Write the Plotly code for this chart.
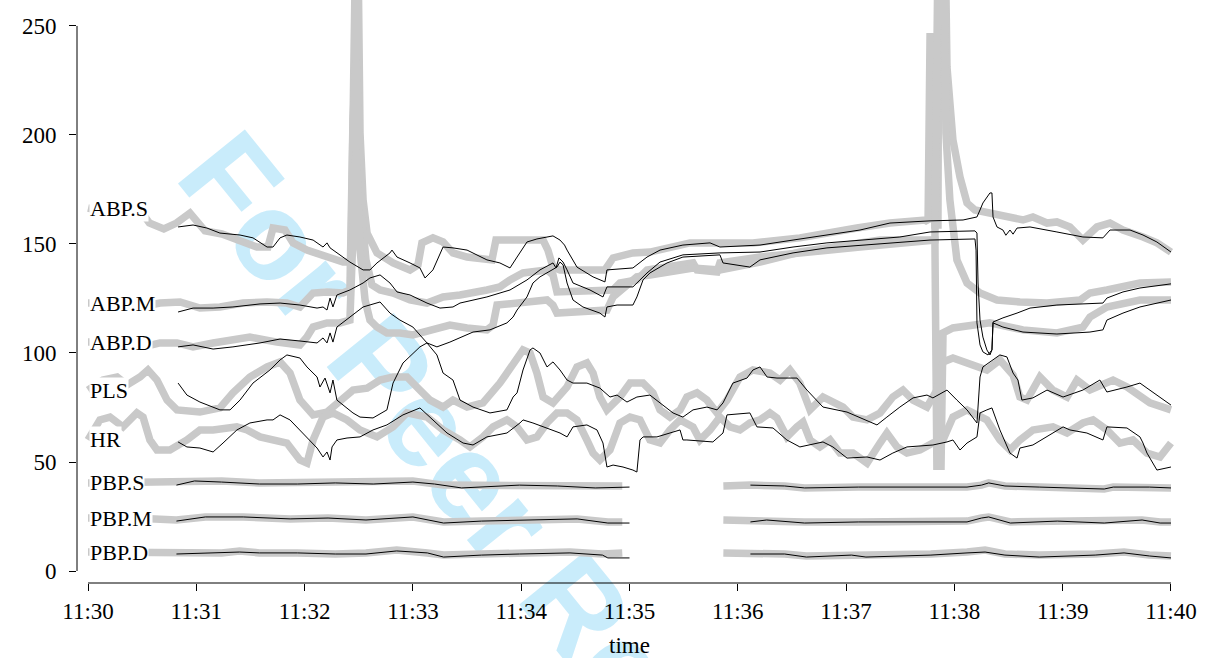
import pandas as pd
import plotly.graph_objects as go

# ---------------- data (time in seconds after 11:30:00, value) ----------------
TICK_SECONDS = [0, 60, 120, 180, 240, 300, 360, 420, 480, 540, 600]
TICK_LABELS = ["11:30", "11:31", "11:32", "11:33", "11:34", "11:35",
               "11:36", "11:37", "11:38", "11:39", "11:40"]
Y_TICKS = [0, 50, 100, 150, 200, 250]
SERIES_NAMES = ["ABP.S", "ABP.M", "ABP.D", "PLS", "HR", "PBP.S", "PBP.M", "PBP.D"]

# thick grey series (monitor values)
ABP_S_grey = [(0,166.5),(12,164.2),(30,164.2),(34,159.6),(42,156.9),(49,159.6),(56.5,164.2),(60.4,160.6),
    (64.8,156),(74.2,154.6),(84.2,151.4),(93.6,148.6),(99.7,148.6),(102.5,157.3),(109.1,156.4),(113.6,150.5),
    (121.3,147.2),(132.4,144),(141.3,141.7),(145.7,141.7),(146.3,330),(149,330),(150.7,200.9),(152.4,170.2),
    (154.6,155),(160.1,145.9),(169,141.3),(178.4,138.1),(182.8,140.4),(185,150.5),(191.1,152.8),(196.7,150.9),
    (202.2,145.9),(210,144),(223.8,142.7),(226,151.8),(233.8,151.8),(252.1,151.8),(254.8,147.2),(257.6,139.4),
    (261.5,138.1),(286.4,138.1),(290.9,143.6),(301.9,145.9),(311.3,146.3),(333.5,150.5),(368.4,150.5),
    (394.4,152.8),(426,157.3),(444.3,159.6),(463.7,161),(465.4,160.1),(466.5,245),(468.1,245),(469.2,158.7),
    (470.9,158.7),(471.5,330),(474.2,330),(475.9,231.2),(477.5,216.1),(479.2,197.7),(483.1,180.7),(487,168.8),
    (491.4,165.6),(499.7,164.2),(506.9,162.4),(518,161),(523.5,162.4),(531.3,159.6),(536.8,160.1),(544,157.8),
    (551.2,151.8),(559,157.8),(566.2,159.6),(573.4,156.4),(584.5,153.2),(592.2,150.5),(600,146.3)]
ABP_M_grey = [(0,122.9),(13.9,122.9),(28.8,121.1),(39.9,122.9),(51,123.4),(62,120.6),(73.1,121.1),(85.9,122.9),
    (99.2,123.4),(110.2,122.9),(117.4,121.1),(121.3,124.3),(124.7,127.5),(132.4,128),(141.3,127.5),(145.1,128.9),
    (146.8,206.9),(148.5,234.4),(150.1,193.1),(151.8,162.4),(154,142.7),(157.3,131.2),(161.8,128.9),(169,127.5),
    (178.4,124.3),(187.8,122.9),(196.7,125.7),(206.1,126.6),(221,128.9),(228.2,130.3),(233.8,133.5),(241,136.7),
    (254.3,138.1),(257.6,135.8),(259.8,128),(290.9,128.9),(294.7,132.1),(304.1,133.5),(309.7,138.1),(335.2,141.3),
    (337.4,138.1),(348.5,137.2),(350.1,141.3),(372.3,144),(427.7,148.6),(449.8,150.5),(469.2,151.8),(471.5,330),
    (473.7,330),(475.3,200.9),(477.5,170.2),(481.4,142.7),(487,132.1),(494.2,127.5),(503.6,124.3),(516.3,123.4),
    (531.3,122.9),(549.6,124.3),(555.1,127.5),(564.5,128.9),(573.4,130.3),(582.8,132.1),(600,132.6)]
ABP_D_grey = [(0,105),(12.2,105),(30.5,102.8),(39.9,104.6),(49.3,104.6),(58.2,102.8),(69.3,104.6),(80.3,106),
    (89.7,107.3),(104.7,105),(117.4,103.7),(121.3,107.3),(124.7,111.9),(132.4,113.8),(139.6,113.8),(145.1,115.1),
    (146.8,170.2),(148.5,193.1),(150.7,147.2),(153.5,124.3),(156.2,115.1),(160.1,111.9),(165.6,109.2),(172.8,109.2),
    (180,108.3),(191.1,110.6),(200.5,112.8),(210,111.5),(221,110.6),(224.4,112.8),(226.6,122),(254.3,124.3),
    (257.6,122),(259.8,118.3),(287.5,119.7),(290.9,125.7),(304.1,134.9),(311.3,135.8),(335.2,139),(350.1,138.1),
    (372.3,141.7),(394.4,146.3),(438.8,151.8),(469.2,151.8),(470.3,48),(472.6,48),(473.7,109.2),(479.2,111.5),
    (490.3,112.8),(499.7,113.8),(518,110.6),(536.8,109.2),(551.2,111.9),(555.1,116.5),(564.5,121.1),(582.8,124.3),
    (600,124.3)]
PLS_grey = [(0,83),(8.3,87.6),(16.1,89),(21.6,85.3),(28.8,89),(33.2,92.2),(38.2,87.6),(43.8,78.4),(49.3,73.9),
    (62,72.9),(73.1,74.8),(80.3,81.7),(89.7,89),(99.2,93.6),(106.4,95.9),(111.9,90.8),(117.4,78.4),(124.7,71.6),
    (132.4,72.9),(139.6,78.4),(146.8,83),(154.6,83.9),(161.8,87.6),(169,89),(176.7,89),(183.9,83),(189.5,78.4),
    (196.7,75.2),(202.2,78.4),(210,75.2),(218.8,77.1),(228.2,86.2),(235.5,95.4),(241,101.4),(244.9,100),
    (248.7,90.8),(252.1,79.8),(257.6,77.1),(265.4,84.4),(270.9,93.6),(276.4,95.4),(279.8,90.8),(283.6,79.8),
    (287.5,73.9),(294.7,79.8),(300.3,86.2),(307.5,86.2),(313,81.7),(316.9,73.9),(322.4,70.6),(328,73.9),
    (331.8,79.8),(337.4,81.7),(342.9,78.4),(348.5,72.5),(354,78.4),(361.2,89),(368.4,92.2),(377.8,90.8),
    (383.4,87.6),(388.9,92.2),(394.4,86.2),(400,73.9),(407.2,79.8),(418.3,75.2),(423.8,70.6),(431.6,69.3),
    (438.8,72.5),(445.9,79.8),(451.5,83),(457.1,78.4),(464.8,75.2),(470.3,83),(473.7,95.9),(479.2,97.7),
    (487,95.4),(498,92.2),(505.2,96.8),(512.5,89.9),(516.3,79.8),(520.2,78.4),(527.4,89),(534.6,83),
    (542.4,79.8),(547.9,87.6),(555.1,83),(567.9,87.6),(575.6,84.4),(588.3,77.1),(600,73.9)]
HR_grey = [(0,60.1),(6.6,69.3),(12.2,70.6),(19.4,66.1),(27.1,72.5),(30.5,70.6),(34.3,60.1),(38.2,55.5),
    (45.4,55.5),(54.8,60.1),(62,64.7),(69.3,64.7),(82.5,66.1),(88.1,64.7),(95.3,61.5),(102.5,60.1),(110.2,58.7),
    (117.4,50.9),(121.3,49.5),(124.7,60.1),(130.2,70.6),(135.7,72.5),(143.5,69.3),(150.7,64.7),(160.1,61.5),
    (169,66.1),(176.7,72.5),(187.8,70.6),(196.7,64.7),(206.1,60.1),(211.6,56.9),(218.8,61.5),(224.4,66.1),
    (232.1,69.3),(237.7,66.1),(243.2,60.1),(248.7,61.5),(254.3,67.9),(259.8,72.5),(265.4,72.5),(270.9,69.3),
    (276.4,60.1),(279.8,54.1),(283.6,50.9),(289.2,55.5),(294.7,67.9),(300.3,70.6),(305.8,69.3),(311.3,60.1),
    (316.9,58.7),(322.4,64.7),(328,69.3),(335.2,66.1),(339,60.1),(344.6,64.7),(350.1,70.6),(355.7,66.1),
    (361.2,64.7),(366.7,67.9),(372.3,69.3),(377.8,72.5),(381.7,70.2),(387.2,61.5),(392.8,66.1),(396.1,68.3),
    (400,60.1),(405.5,56.9),(411.1,60.1),(416.6,54.1),(423.8,54.1),(431.6,49.5),(438.8,58.7),(442.6,63.3),
    (448.2,56.9),(453.7,54.1),(460.9,55.5),(468.1,58.7),(473.7,60.1),(479.2,70.6),(487,73.9),(498,69.3),
    (505.2,60.1),(510.8,55.5),(516.3,60.1),(523.5,64.7),(534.6,66.1),(542.4,63.3),(551.2,67.9),(556.8,69.3),
    (564.5,64.7),(571.7,58.7),(578.9,60.1),(586.7,54.1),(593.9,52.3),(600,58.7)]
PBP_S_grey = [(0,40.4),(20,40.8),(49,41.3),(74,41.3),(95,40.4),(137,40.8),(158,40.4),(180,41.3),(197,39.4),
    (218,39.4),(260,39.4),(281,39),(296,39), None,
    (352,39),(367,39.4),(386,39),(397,38.1),(427,38.5),(487,38.5),(495,39.4),(499,40.4),(508,39),(527,38.5),
    (563,37.6),(568,38.5),(588,38.5),(600,38.1)]
PBP_M_grey = [(0,24.3),(25,24.3),(49,23.4),(65,24.8),(86,24.8),(112,23.9),(133,24.3),(154,23.4),(180,24.8),
    (197,22.5),(218,22.9),(239,23.4),(271,23.9),(288,22.5),(296,22.5), None,
    (352,23.4),(367,22.9),(376,23.4),(397,22.5),(427,22.5),(487,22.9),(495,24.3),(499,24.8),(511,22.5),
    (537,22.9),(563,22.5),(584,23.4),(594,22.5),(600,22.5)]
PBP_D_grey = [(0,8.7),(25,8.7),(49,8.3),(74,8.3),(84,9.2),(95,8.3),(116,8.3),(137,7.8),(154,8.3),(171,9.6),
    (188,8.3),(197,7.3),(218,7.8),(239,8.3),(267,8.7),(285,7.8),(296,8.3), None,
    (352,8.3),(367,8.3),(386,7.8),(398,6.9),(423,7.3),(431,6.9),(467,7.8),(487,8.7),(497,9.6),(508,7.8),
    (527,7.3),(558,7.8),(574,8.7),(588,7.3),(600,6.9)]

# thin black series (processed values)
ABP_S_black = [(49.9,157.8),(58.2,158.7),(65.9,157.3),(73.1,155),(84.2,154.1),(91.4,152.8),(99.2,148.6),
    (102.5,148.6),(106.4,152.8),(110.2,154.1),(117.4,153.2),(124.7,151.8),(130.2,148.6),(132.4,150.5),
    (134.1,148.2),(137.9,145.9),(145.1,141.7),(152.4,138.1),(156.2,138.1),(160.1,141.3),(167.3,145.9),
    (168.4,147.2),(171.2,144),(178.4,141.3),(183.9,139),(186.7,134.4),(191.1,138.1),(196.7,148.6),(202.2,148.2),
    (210,147.2),(221,142.7),(228.2,141.3),(233.8,139),(237.7,144),(243.2,150.9),(248.7,152.3),(257.6,153.7),
    (261.5,151.8),(264,149.5),(265.4,147.2),(270.9,139.4),(279.8,134.9),(286.4,132.6),(287.5,138.1),(301.9,139),
    (309.7,144),(316.9,147.2),(329.6,149.5),(344.6,150.5),(350.1,148.6),(372.3,149.5),(390.6,151.8),(409.4,154.1),
    (427.7,156.4),(444.3,159.6),(466.5,160.6),(484.8,161),(492.5,162.4),(494.2,165.6),(495.8,168.8),(499.7,173.4),
    (500.8,173.4),(501.4,162.4),(503.6,157.8),(506.9,156.4),(508.5,154),(510.8,156.4),(512.5,154.5),(514.7,157.3),
    (521.9,157.8),(536.8,155.5),(551.2,153.2),(562.3,152.8),(566.2,156.4),(577.3,156.4),(584.5,154.1),
    (592.2,150.9),(600,146.3)]
ABP_M_black = [(49.9,118.8),(58.2,120.6),(69.3,120.6),(80.3,121.1),(95.3,122.5),(106.4,122.9),(117.4,122),
    (126.9,120.6),(130.2,121.1),(132.4,119.7),(134.1,125.2),(135.7,121.1),(137.9,126.6),(145.1,128.9),
    (152.4,132.1),(156.2,134.4),(161.8,135.8),(167.3,132.1),(171.2,128),(178.4,126.6),(187.8,122.9),(195,120.6),
    (202.2,121.1),(206.1,122.9),(221,125.7),(233.8,128.9),(243.2,133.5),(250.4,138.1),(257.6,141.3),(259.3,139),
    (260.9,143.6),(263.2,141.7),(265.4,138.1),(268.7,132.1),(278.1,128.9),(285.3,125.7),(287.5,130.3),
    (301.9,130.3),(305.8,133.5),(309.7,136.7),(316.9,141.7),(329.6,145),(350.1,145.9),(372.3,146.3),
    (390.6,148.6),(409.4,150.5),(449.8,153.2),(466.5,155.5),(491.4,156),(492.5,155),(493.1,132.1),(494.2,115.1),
    (495.8,107.3),(498,101.4),(499.7,99.1),(500.8,101.4),(501.4,114.2),(506.9,116.1),(514.7,118.3),(521.9,120.6),
    (536.8,122),(562.3,122.9),(564.5,125.2),(573.4,128),(582.8,129.8),(600,131.7)]
ABP_D_black = [(49.9,102.8),(58.2,103.7),(69.3,101.8),(80.3,102.8),(95.3,104.6),(106.4,106.4),(117.4,105.5),
    (126.9,104.6),(130.2,106.9),(132.4,104.6),(134.1,109.2),(135.7,105),(137.9,111.9),(145.1,116.5),(152.4,121.1),
    (161.8,123.4),(167.3,118.3),(172.8,115.1),(180,111.9),(187.8,104.6),(193.3,102.8),(200.5,105),(213.3,109.6),
    (222.7,110.6),(232.1,113.8),(235.5,116.5),(237.7,119.7),(243.2,125.7),(246.5,132.1),(250.4,134.9),
    (254.3,136.7),(259.8,139.4),(261.5,141.7),(263.2,140.4),(265.4,132.1),(268.7,124.3),(274.2,121.1),
    (283.6,118.3),(286.4,116.5),(287.5,121.1),(293.1,122),(301.9,122),(304.1,125.7),(307.5,133.5),(311.3,136.7),
    (320.8,141.3),(329.6,144),(350.1,145),(351.8,141.3),(366.7,139.4),(372.3,142.7),(390.6,145.9),(409.4,148.2),
    (449.8,150.9),(466.5,151.8),(491.4,152.3),(492,147.2),(492.5,113.8),(494.2,103.7),(495.8,100.5),(498.6,99.1),
    (500.8,101.4),(501.4,113.8),(506.9,111.9),(518,109.6),(536.8,108.7),(555.1,109.6),(562.3,110.6),
    (564.5,115.1),(573.4,118.3),(582.8,121.1),(600,124.3)]
PLS_black = [(49.9,86.2),(54.8,80.7),(62,77.5),(73.1,73.9),(78.7,73.9),(84.2,78.4),(91.4,86.2),(100.8,92.2),
    (106.4,96.8),(110.2,99.1),(117.4,97.7),(121.3,93.6),(126.9,89),(128.5,84.4),(131.3,88.5),(134.1,81.7),
    (135.7,87.6),(137.9,78.4),(146.8,72.5),(150.7,70.6),(157.9,70.2),(165.6,73.9),(169,86.2),(174.5,95.4),
    (183.9,102.8),(187.8,104.6),(193.3,99.1),(196.7,90.8),(202.2,87.6),(206.1,78.4),(213.3,75.2),(222.7,72.5),
    (232.1,73.9),(235.5,79.8),(237.7,81.7),(241,92.2),(244.9,101.4),(246.5,102.3),(250.4,100),(254.3,93.6),
    (257.6,95.9),(261.5,92.2),(265.4,87.6),(268.7,86.2),(276.4,86.2),(283.6,83.9),(289.2,79.8),(293.1,80.7),
    (298.6,77.5),(304.1,79.8),(311.3,80.7),(316.9,77.1),(324.1,72.5),(329.6,70.6),(335.2,73.9),(342.9,75.2),
    (348.5,73.9),(351.8,77.1),(357.3,86.2),(365.1,88.5),(368.4,92.2),(372.3,93.6),(376.2,89),(381.7,88.5),
    (392.8,88.5),(398.3,83),(407.2,75.2),(420.5,72.9),(427.7,70.2),(437.1,67),(442.6,70.6),(449.8,75.2),
    (457.1,79.4),(464.8,80.7),(468.1,79.4),(475.9,83),(481.4,78.4),(487,73.9),(492.5,67.9),(494.2,89),
    (495.8,93.6),(499.7,95.9),(505.2,99.1),(509.1,98.2),(512.5,90.8),(515.2,87.6),(517.4,78.4),(523.5,79.4),
    (531.3,83),(540.2,79.8),(551.2,83),(560.6,87.6),(564.5,82.1),(575.6,84.4),(582.8,86.2),(586.7,83.9),
    (593.9,79.8),(600,76.1)]
HR_black = [(49.9,59.2),(54.8,56.9),(62,56.4),(69.3,54.6),(74.8,58.7),(82.5,64.7),(89.7,67.9),(99.2,69.3),
    (102.5,69.3),(106.4,71.6),(111.9,69.3),(117.4,64.7),(123,60.1),(126.9,56.4),(130.2,52.3),(132.4,54.6),
    (134.1,50.9),(135.2,56.9),(137.9,60.1),(143.5,61),(150.7,61.5),(157.9,64.7),(165.6,67),(174.5,71.6),
    (183.9,74.8),(191.1,69.3),(198.9,63.3),(207.8,58.7),(213.3,57.8),(221,61.5),(232.1,63.3),(239.3,67.9),
    (241,69.3),(246.5,67.9),(254.3,65.6),(261.5,63.3),(265.4,61.5),(268.7,66.1),(276.4,67),(282,64.7),
    (285.3,58.7),(287.5,47.7),(290.9,48.6),(296.4,47.7),(301.9,46.3),(304.1,45.4),(305.8,60.1),(307.5,61.5),
    (315.2,61.5),(324.1,63.8),(328,64.7),(329.6,60.1),(331.8,60.1),(346.2,59.2),(351.8,63.3),(354,71.6),
    (366.7,72.5),(370.6,66.1),(379.5,65.6),(387.2,60.1),(394.4,56.9),(407.2,59.2),(412.7,56.9),(420.5,51.8),
    (431.6,52.3),(438.8,50.9),(445.9,54.1),(453.7,56.9),(468.1,57.8),(475.9,59.2),(479.2,60.1),(483.1,55.5),
    (487,58.7),(492.5,61.5),(494.2,72.5),(498,73.9),(500.8,74.8),(505.2,64.7),(510.8,54.1),(514.7,51.8),
    (516.3,56.4),(523.5,57.8),(534.6,63.3),(540.2,66.1),(544,64.7),(553.4,63.3),(562.3,60.1),(564.5,66.1),
    (575.6,65.6),(582.8,61.5),(584.5,58.7),(586.7,54.1),(592.2,46.3),(597.7,47.2),(600,47.7)]
PBP_S_black = [(49,39.4),(59,41.3),(74,40.8),(95,39.9),(116,39.9),(137,40.4),(158,39.9),(180,40.8),(192,39.9),
    (207,38.1),(239,39.4),(260,39),(281,38.1),(300,38.5), None,
    (367,39.4),(386,39),(397,38.1),(427,38.5),(487,38.5),(495,39.4),(499,40.4),(508,39),(527,38.5),(563,37.6),
    (568,38.5),(588,38.5),(600,38.1)]
PBP_M_black = [(49,22.9),(65,24.8),(86,24.8),(112,23.9),(133,24.3),(154,23.4),(180,24.8),(197,22),(218,22.9),
    (239,23.4),(271,23.9),(288,22),(300,22), None,
    (367,22.5),(376,23.4),(397,22),(427,22.5),(487,22.5),(495,24.3),(499,24.8),(511,22),(537,22.9),(563,22),
    (584,23.4),(594,22),(600,22)]
PBP_D_black = [(49,7.8),(74,8.3),(84,8.7),(95,8.3),(116,8.3),(137,7.8),(154,7.8),(171,9.2),(188,8.3),(197,6.4),
    (218,7.3),(239,7.8),(267,8.3),(285,7.3),(288,6),(300,6), None,
    (367,7.8),(386,7.8),(398,6.4),(423,7.3),(431,6.4),(467,7.3),(487,8.3),(497,8.7),(508,7.3),(527,6.4),
    (558,7.3),(574,8.3),(588,6.9),(600,6)]

GREY_SERIES = [ABP_S_grey, ABP_M_grey, ABP_D_grey, PLS_grey, HR_grey, PBP_S_grey, PBP_M_grey, PBP_D_grey]
BLACK_SERIES = [ABP_S_black, ABP_M_black, ABP_D_black, PLS_black, HR_black, PBP_S_black, PBP_M_black, PBP_D_black]

# ---------------- helpers ----------------
BASE = pd.Timestamp("2000-01-01 11:30:00")


def to_time(sec):
    return BASE + pd.Timedelta(seconds=sec)


def unzip(pairs):
    xs, ys = [], []
    for p in pairs:
        if p is None:
            xs.append(None)
            ys.append(None)
        else:
            xs.append(to_time(p[0]))
            ys.append(p[1])
    return xs, ys


SERIF = "Liberation Serif"
GREY = "#c9c9c9"

fig = go.Figure()
for name, pairs in zip(SERIES_NAMES, GREY_SERIES):
    xs, ys = unzip(pairs)
    fig.add_trace(go.Scatter(x=xs, y=ys, mode="lines", name=name + " (monitor)",
                             line=dict(color=GREY, width=7.5), connectgaps=False,
                             hoverinfo="skip"))
for name, pairs in zip(SERIES_NAMES, BLACK_SERIES):
    xs, ys = unzip(pairs)
    fig.add_trace(go.Scatter(x=xs, y=ys, mode="lines", name=name,
                             line=dict(color="black", width=1), connectgaps=False))

# series labels at the start of each grey series
for name, pairs in zip(SERIES_NAMES, GREY_SERIES):
    fig.add_annotation(x=to_time(pairs[0][0]), y=pairs[0][1], text=name, showarrow=False,
                       xanchor="left", yanchor="middle", xshift=1,
                       font=dict(family=SERIF, size=22, color="black"),
                       bgcolor="white", borderpad=0)

tick_times = [to_time(s) for s in TICK_SECONDS]

# R-style detached axis lines
fig.add_shape(type="line", xref="x", yref="paper", x0=tick_times[0], x1=tick_times[-1], y0=0, y1=0,
              line=dict(color="black", width=1))
fig.add_shape(type="line", xref="paper", yref="y", x0=0, x1=0, y0=Y_TICKS[0], y1=Y_TICKS[-1],
              line=dict(color="black", width=1))

# watermark
fig.add_shape(type="line", xref="paper", yref="paper", x0=0.2319, y0=0.5079, x1=0.5736, y1=-0.2918,
              line=dict(color="rgba(0,0,0,0)", width=0), layer="below",
              label=dict(text="For Peer Review", textposition="middle", yanchor="middle", padding=0,
                         font=dict(family="Liberation Sans", size=125,
                                   color="#c9ecfb", weight="bold")))

fig.update_layout(
    width=1208, height=658,
    margin=dict(l=77, r=26, t=0, b=75),
    paper_bgcolor="white", plot_bgcolor="white",
    showlegend=False,
    font=dict(family=SERIF, color="black"),
    xaxis=dict(type="date",
               range=[to_time(-6.1), to_time(606.1)],
               tickmode="array", tickvals=tick_times, ticktext=TICK_LABELS,
               ticks="outside", ticklen=7, tickwidth=1, tickcolor="black",
               showgrid=False, zeroline=False, showline=False,
               tickfont=dict(family=SERIF, size=23, color="black"),
               title=dict(text="time", font=dict(family=SERIF, size=23, color="black"), standoff=18)),
    yaxis=dict(range=[-5.5, 261.9],
               tickmode="array", tickvals=Y_TICKS, ticktext=[str(v) for v in Y_TICKS],
               ticks="outside", ticklen=7, tickwidth=1, tickcolor="black",
               showgrid=False, zeroline=False, showline=False,
               tickfont=dict(family=SERIF, size=23, color="black"),
               ticklabelstandoff=8),
)

fig.write_html("out.html", config={"displayModeBar": False},
               post_script="document.body.style.margin='0px';document.body.style.overflow='hidden';")
